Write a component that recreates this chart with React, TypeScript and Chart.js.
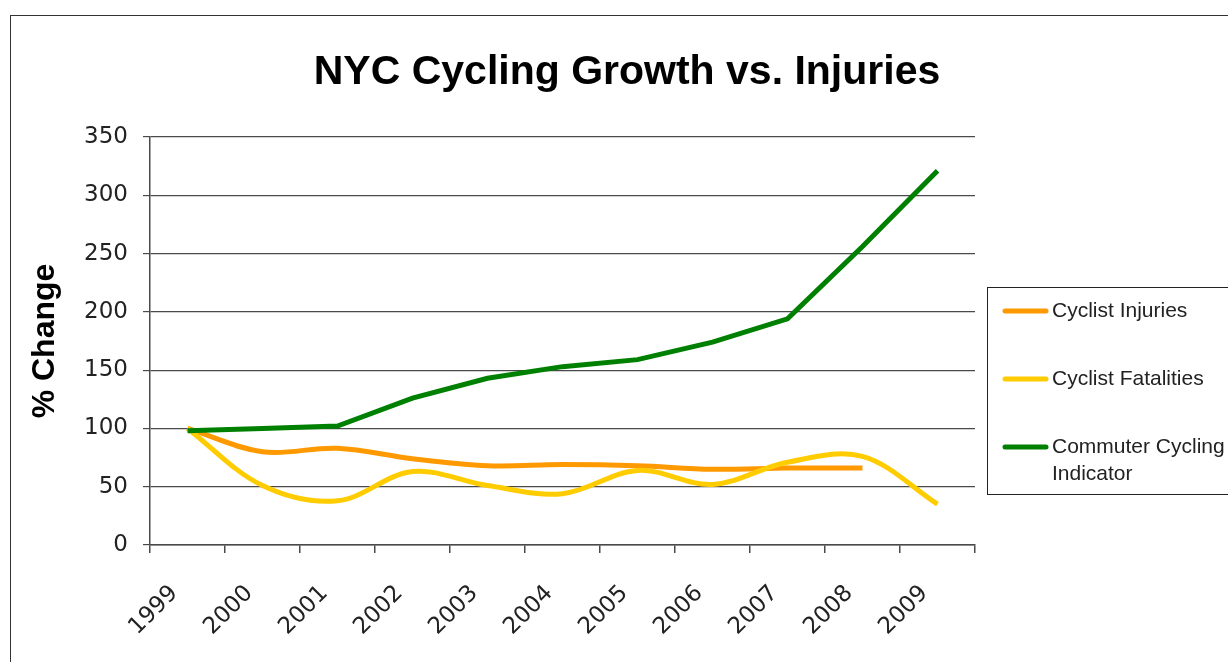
import React, { useEffect, useRef } from "react";
import { Chart, registerables } from "chart.js";

Chart.register(...registerables);

const chartTitle = "NYC Cycling Growth vs. Injuries";
const yAxisTitle = "% Change";
const years = ["1999", "2000", "2001", "2002", "2003", "2004", "2005", "2006", "2007", "2008", "2009"];
const injuries = [100, 80, 83, 74, 68, 69, 68, 65, 66, 66, null];
const fatalities = [100, 51, 38, 63, 51, 44, 64, 52, 71, 76, 35];
const commuter = [98, 100, 102, 126, 143, 153, 159, 174, 194, 256, 321];
const yMin = 0;
const yMax = 350;
const yStep = 50;
const seriesNames = ["Cyclist Injuries", "Cyclist Fatalities", "Commuter Cycling Indicator"];
const legendLines = [["Cyclist Injuries"], ["Cyclist Fatalities"], ["Commuter Cycling", "Indicator"]];
const seriesColors = ["#FF9900", "#FFCC00", "#008000"];

const AXIS_COLOR = "#4a4a4a";
const TICK_FONT = "'DejaVu Sans', sans-serif";
const BOLD_FONT = "'Liberation Sans', Arial, sans-serif";

const titlePlugin = {
  id: "customTitle",
  afterDraw(chart: any) {
    const ctx = chart.ctx;
    ctx.save();
    ctx.font = `bold 41px ${BOLD_FONT}`;
    ctx.fillStyle = "#000";
    ctx.textAlign = "center";
    ctx.textBaseline = "middle";
    ctx.fillText(chartTitle, 627, 73);
    ctx.restore();
  },
};

const legendPlugin = {
  id: "customLegend",
  afterDraw(chart: any) {
    const ctx = chart.ctx;
    ctx.save();
    ctx.strokeStyle = "#222";
    ctx.lineWidth = 1;
    ctx.strokeRect(987.5, 287.5, 260, 207);
    const rowY = [311, 379, 447];
    ctx.font = `21px ${BOLD_FONT}`;
    ctx.textAlign = "left";
    ctx.textBaseline = "middle";
    legendLines.forEach((lines, i) => {
      ctx.strokeStyle = seriesColors[i];
      ctx.lineWidth = 5;
      ctx.lineCap = "round";
      ctx.beginPath();
      ctx.moveTo(1005, rowY[i]);
      ctx.lineTo(1046, rowY[i]);
      ctx.stroke();
      ctx.fillStyle = "#222";
      lines.forEach((t, j) => ctx.fillText(t, 1052, rowY[i] + j * 27));
    });
    ctx.restore();
  },
};

function CyclingChart() {
  const ref = useRef<HTMLCanvasElement>(null);
  useEffect(() => {
    if (!ref.current) return;
    const chart = new Chart(ref.current, {
      type: "line",
      data: {
        labels: years,
        datasets: [
          { label: seriesNames[0], data: injuries, borderColor: seriesColors[0], backgroundColor: seriesColors[0], borderWidth: 5, pointRadius: 0, tension: 0.35, order: 2 },
          { label: seriesNames[1], data: fatalities, borderColor: seriesColors[1], backgroundColor: seriesColors[1], borderWidth: 5, pointRadius: 0, tension: 0.35, order: 1 },
          { label: seriesNames[2], data: commuter, borderColor: seriesColors[2], backgroundColor: seriesColors[2], borderWidth: 5, pointRadius: 0, tension: 0, order: 0 },
        ],
      },
      options: {
        responsive: false,
        animation: false,
        events: [],
        layout: { padding: { left: 0, top: 137, right: 253, bottom: 0 } },
        plugins: { legend: { display: false }, title: { display: false }, tooltip: { enabled: false } },
        scales: {
          x: {
            type: "category",
            offset: true,
            grid: { offset: true, drawOnChartArea: false, drawTicks: true, tickLength: 8, color: AXIS_COLOR, lineWidth: 1.5 },
            border: { color: AXIS_COLOR, width: 1.5 },
            ticks: { minRotation: 45, maxRotation: 45, autoSkip: false, padding: 27, labelOffset: -13, color: "#222", font: { family: TICK_FONT, size: 23 } },
            afterFit(scale: any) { scale.height = 117; },
          },
          y: {
            min: yMin,
            max: yMax,
            grid: { color: AXIS_COLOR, lineWidth: 1.2, tickLength: 7 },
            border: { color: AXIS_COLOR, width: 1.5 },
            ticks: { stepSize: yStep, padding: 15, color: "#222", font: { family: TICK_FONT, size: 23 } },
            title: { display: true, text: yAxisTitle, color: "#000", font: { family: BOLD_FONT, size: 32, weight: "bold" }, padding: { top: 26, bottom: 0 } },
            afterFit(scale: any) { scale.width = 150; },
          },
        },
      },
      plugins: [titlePlugin, legendPlugin],
    } as any);
    return () => chart.destroy();
  }, []);
  return <canvas ref={ref} width={1228} height={662} style={{ position: "absolute", left: 0, top: 0, width: 1228, height: 662 }} />;
}

export default function App() {
  return (
    <div style={{ position: "fixed", left: 0, top: 0, width: 1228, height: 662, overflow: "hidden", background: "#fff" }}>
      <div style={{ position: "absolute", left: 10, top: 15, width: 1260, height: 700, border: "1px solid #333", boxShadow: "1px 1px 1px #999" }} />
      <CyclingChart />
    </div>
  );
}
